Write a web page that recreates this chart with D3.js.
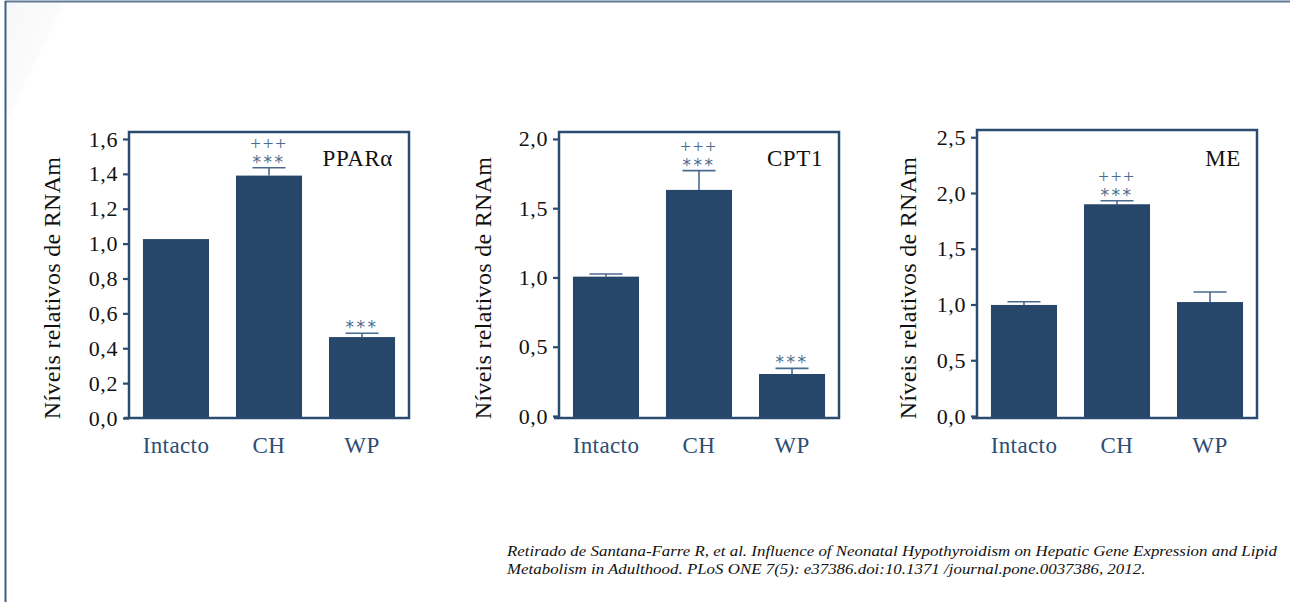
<!DOCTYPE html>
<html><head><meta charset="utf-8">
<script src="https://cdn.jsdelivr.net/npm/d3@7"></script>
<style>
html,body{margin:0;padding:0;background:#fff;}
svg{display:block;}
</style></head>
<body>
<svg id="chart" width="1290" height="602"></svg>
<script>
// ---- data ----
const categories = ["Intacto", "CH", "WP"];
const panelTitles = ["PPARα", "CPT1", "ME"];
const pparValues = [1.026, 1.39, 0.464];
const pparErrors = [0, 0.045, 0.022];
const pparMarks = [[], ["+++", "***"], ["***"]];
const cpt1Values = [1.006, 1.632, 0.303];
const cpt1Errors = [0.019, 0.139, 0.041];
const cpt1Marks = [[], ["+++", "***"], ["***"]];
const meValues = [0.996, 1.899, 1.022];
const meErrors = [0.029, 0.032, 0.09];
const meMarks = [[], ["+++", "***"], []];
const pparTicks = [0, 0.2, 0.4, 0.6, 0.8, 1.0, 1.2, 1.4, 1.6];
const cpt1Ticks = [0, 0.5, 1.0, 1.5, 2.0];
const meTicks = [0, 0.5, 1.0, 1.5, 2.0, 2.5];
const yMaxes = [1.64, 2.05, 2.565];
const yLabel = "Níveis relativos de RNAm";
const captionLines = [
  "Retirado de Santana-Farre R, et al. Influence of Neonatal Hypothyroidism on Hepatic Gene Expression and Lipid",
  "Metabolism in Adulthood. PLoS ONE 7(5): e37386.doi:10.1371 /journal.pone.0037386, 2012."
];

const panels = [
  {title: panelTitles[0], values: pparValues, errors: pparErrors, marks: pparMarks, ticks: pparTicks, yMax: yMaxes[0]},
  {title: panelTitles[1], values: cpt1Values, errors: cpt1Errors, marks: cpt1Marks, ticks: cpt1Ticks, yMax: yMaxes[1]},
  {title: panelTitles[2], values: meValues, errors: meErrors, marks: meMarks, ticks: meTicks, yMax: yMaxes[2]}
];
// layout (pixels)
const layout = [
  {left: 129, top: 132, zeroY: 418, ylabX: -77},
  {left: 559, top: 132, zeroY: 416, ylabX: -76},
  {left: 977, top: 130, zeroY: 416, ylabX: -69}
];
const frameW = 280, bottomY = 418;

const FONT = "'Liberation Serif', 'Times New Roman', serif";
const BAR = "#26476a", FRAME = "#2b4b70", XLAB = "#2f4d72", ANN = "#4a6a8f";

const svg = d3.select("#chart");

// page frame
const grad = svg.append("defs").append("linearGradient").attr("id","fade")
  .attr("x1","0").attr("y1","0").attr("x2","1").attr("y2","1");
grad.append("stop").attr("offset","0").attr("stop-color","#f3f4f6");
grad.append("stop").attr("offset","1").attr("stop-color","#ffffff");
svg.append("path").attr("d","M7,3 L64,3 L7,120 Z").attr("fill","url(#fade)").attr("opacity",0.7);
svg.append("line").attr("x1",5).attr("x2",1290).attr("y1",1.5).attr("y2",1.5)
  .attr("stroke","#5f7896").attr("stroke-width",2);
svg.append("line").attr("x1",5.5).attr("x2",5.5).attr("y1",1).attr("y2",602)
  .attr("stroke","#3f5f82").attr("stroke-width",2);

panels.forEach((p, i) => {
  const L = layout[i];
  const g = svg.append("g");
  const x = d3.scaleBand().domain(categories).range([L.left, L.left + frameW])
    .paddingInner(0.29).paddingOuter(0.15);
  const y = d3.scaleLinear().domain([0, p.yMax]).range([L.zeroY, L.top]);

  // bars
  g.selectAll("rect.bar").data(categories).join("rect")
    .attr("x", d => x(d)).attr("width", x.bandwidth())
    .attr("y", (d, j) => y(p.values[j]))
    .attr("height", (d, j) => bottomY - y(p.values[j]))
    .attr("fill", BAR);

  // error bars + significance marks
  categories.forEach((c, j) => {
    const cx = x(c) + x.bandwidth() / 2;
    const yt = y(p.values[j] + p.errors[j]);
    if (p.errors[j]) {
      g.append("line").attr("x1", cx).attr("x2", cx).attr("y1", y(p.values[j])).attr("y2", yt)
        .attr("stroke", ANN).attr("stroke-width", 1.6);
      g.append("line").attr("x1", cx - x.bandwidth() / 4).attr("x2", cx + x.bandwidth() / 4)
        .attr("y1", yt).attr("y2", yt).attr("stroke", ANN).attr("stroke-width", 1.6);
    }
    const marks = p.marks[j];
    if (!marks.length) return;
    const t = g.append("text").attr("text-anchor", "middle").attr("fill", ANN);
    const n = marks.length;
    marks.forEach((m, k) => {
      const isStar = m.indexOf("*") >= 0;
      const level = n - 1 - k; // 0 = closest to bar
      t.append("tspan").attr("x", cx)
        .attr("y", yt - (level === 0 ? 0 : 18))
        .attr("font-family", isStar ? "'DejaVu Sans', sans-serif" : FONT)
        .attr("font-size", isStar ? 17 : 19)
        .attr("letter-spacing", isStar ? 2.5 : 1.8)
        .text(m);
    });
  });

  // y axis
  const yAx = g.append("g").attr("transform", `translate(${L.left},0)`)
    .call(d3.axisLeft(y).tickValues(p.ticks).tickSize(6).tickPadding(5)
      .tickFormat(d => d3.format(".1f")(d).replace(".", ",")));
  yAx.attr("font-family", FONT);
  yAx.select(".domain").remove();
  yAx.selectAll(".tick line").attr("stroke", FRAME).attr("stroke-width", 2.2);
  yAx.selectAll(".tick text").attr("font-family", FONT).attr("font-size", 22)
    .attr("fill", "#111").attr("letter-spacing", 0.6);

  // frame
  g.append("rect").attr("x", L.left).attr("y", L.top).attr("width", frameW).attr("height", bottomY - L.top)
    .attr("fill", "none").attr("stroke", FRAME).attr("stroke-width", 2.5);
  g.append("line").attr("x1", L.left - 5).attr("x2", L.left).attr("y1", bottomY).attr("y2", bottomY)
    .attr("stroke", FRAME).attr("stroke-width", 2.5);

  // x labels
  g.selectAll("text.xl").data(categories).join("text")
    .attr("x", d => x(d) + x.bandwidth() / 2).attr("y", 453)
    .attr("text-anchor", "middle").attr("font-family", FONT).attr("font-size", 23)
    .attr("letter-spacing", 0.4).attr("fill", XLAB).text(d => d);

  // title
  g.append("text").attr("x", L.left + frameW - 16).attr("y", 166)
    .attr("text-anchor", "end").attr("font-family", FONT).attr("font-size", 23)
    .attr("letter-spacing", 0.6).attr("fill", "#111").text(p.title);

  // y label
  g.append("text").attr("transform", `translate(${L.left + L.ylabX},288) rotate(-90)`)
    .attr("text-anchor", "middle").attr("dominant-baseline", "central")
    .attr("font-family", FONT).attr("font-size", 24).attr("letter-spacing", 0.3)
    .attr("fill", "#111").text(yLabel);
});

// caption
const cap = svg.selectAll("text.cap").data(captionLines).join("text")
  .attr("class", "cap")
  .attr("x", 507).attr("y", (d, i) => 556 + i * 18)
  .attr("font-family", FONT).attr("font-style", "italic").attr("font-size", 15.5)
  .attr("fill", "#111").text(d => d);
const w0 = cap.nodes()[0].getComputedTextLength();
if (w0 > 0) {
  const k = 770 / w0;
  cap.each(function() {
    const w = this.getComputedTextLength();
    d3.select(this).attr("textLength", w * k).attr("lengthAdjust", "spacingAndGlyphs");
  });
}
</script>
</body></html>
